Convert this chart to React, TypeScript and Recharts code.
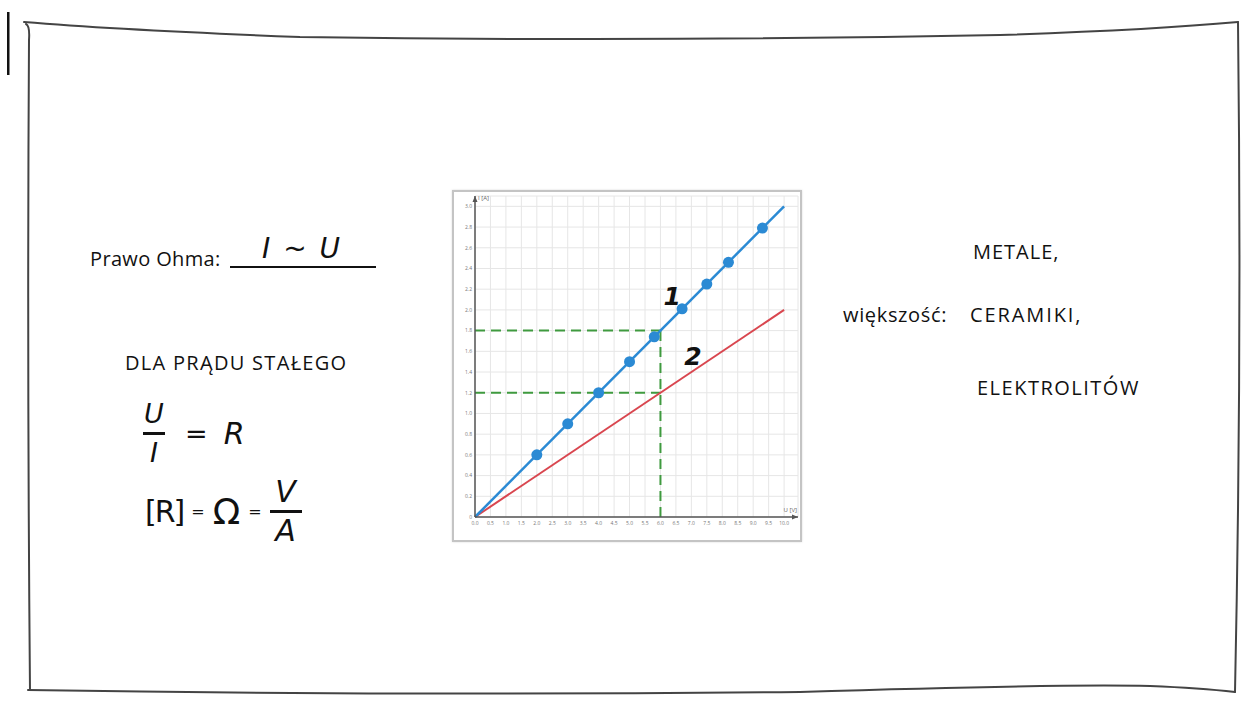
import {
  CartesianGrid,
  ComposedChart,
  Line,
  ReferenceDot,
  ReferenceLine,
  Scatter,
  XAxis,
  YAxis,
} from "recharts";

// axis ticks
const uTicks = [0, 0.5, 1, 1.5, 2, 2.5, 3, 3.5, 4, 4.5, 5, 5.5, 6, 6.5, 7, 7.5, 8, 8.5, 9, 9.5, 10];
const iTicks = [0, 0.2, 0.4, 0.6, 0.8, 1, 1.2, 1.4, 1.6, 1.8, 2, 2.2, 2.4, 2.6, 2.8, 3];

// conductor 1 (steeper) and conductor 2
const line1 = [
  { U: 0, I: 0 },
  { U: 10, I: 3.0 },
];
const line2 = [
  { U: 0, I: 0 },
  { U: 10, I: 2.0 },
];
const measured1 = [
  { U: 2.0, I: 0.6 },
  { U: 3.0, I: 0.9 },
  { U: 4.0, I: 1.2 },
  { U: 5.0, I: 1.5 },
  { U: 5.8, I: 1.74 },
  { U: 6.7, I: 2.01 },
  { U: 7.5, I: 2.25 },
  { U: 8.2, I: 2.46 },
  { U: 9.3, I: 2.79 },
];

// reading at the same voltage
const readU = 6.0;
const readI1 = 1.8;
const readI2 = 1.2;

const U_MAX = 10.45;
const I_MAX = 3.1;

const BLUE = "#2b8ad4";
const RED = "#d9464f";
const GREEN = "#3f9a3f";
const AXIS = "#555";

const textFont = "'Open Sans', 'Noto Sans', sans-serif";
const handFont = "'DejaVu Sans', sans-serif";

const fmtU = (v: number) => v.toFixed(1);
const fmtI = (v: number) => (v === 0 ? "0" : v.toFixed(1));

function ArrowRight(props: any) {
  const { cx, cy } = props;
  return (
    <g>
      <path d={`M${cx} ${cy} l-6 -2.5 l0 5 z`} fill={AXIS} />
      <text x={cx - 1} y={cy - 5} fontSize={6} fill="#666" textAnchor="end" fontFamily={textFont}>
        U [V]
      </text>
    </g>
  );
}

function ArrowUp(props: any) {
  const { cx, cy } = props;
  return (
    <g>
      <path d={`M${cx} ${cy} l-2.5 6 l5 0 z`} fill={AXIS} />
      <text x={cx + 3} y={cy + 4} fontSize={6} fill="#666" fontFamily={textFont}>
        I [A]
      </text>
    </g>
  );
}

const tag = (txt: string) => (props: any) => (
  <text
    x={props.cx}
    y={props.cy}
    fontSize={25}
    fontStyle="italic"
    fontWeight={700}
    fontFamily={handFont}
    fill="#111"
    textAnchor="middle"
    dominantBaseline="central"
  >
    {txt}
  </text>
);

const dotShape = (props: any) => <circle cx={props.cx} cy={props.cy} r={5.5} fill={BLUE} />;

function Chart() {
  return (
    <div
      style={{
        position: "absolute",
        left: 452,
        top: 190,
        width: 350,
        height: 352,
        boxSizing: "border-box",
        border: "2px solid #c4c4c4",
        background: "#fff",
        boxShadow: "0 0 2px rgba(0,0,0,0.15)",
      }}
    >
      <ComposedChart width={346} height={348} margin={{ top: 4, right: 2, left: 5, bottom: 9 }}>
        <CartesianGrid stroke="#e6e6e6" strokeWidth={1} />
        <XAxis
          type="number"
          dataKey="U"
          domain={[0, U_MAX]}
          ticks={uTicks}
          interval={0}
          tickFormatter={fmtU}
          tickLine={false}
          tickSize={2}
          tickMargin={2}
          height={14}
          stroke={AXIS}
          strokeWidth={1.5}
          tick={{ fontSize: 5, fill: "#777", fontFamily: textFont }}
        />
        <YAxis
          type="number"
          dataKey="I"
          domain={[0, I_MAX]}
          ticks={iTicks}
          interval={0}
          tickFormatter={fmtI}
          tickLine={false}
          tickSize={2}
          tickMargin={1}
          width={16}
          stroke={AXIS}
          strokeWidth={1.5}
          tick={{ fontSize: 5, fill: "#777", fontFamily: textFont }}
        />
        <ReferenceLine
          segment={[
            { x: 0, y: readI1 },
            { x: readU, y: readI1 },
          ]}
          stroke={GREEN}
          strokeWidth={2}
          strokeDasharray="10 6"
        />
        <ReferenceLine
          segment={[
            { x: 0, y: readI2 },
            { x: readU, y: readI2 },
          ]}
          stroke={GREEN}
          strokeWidth={2}
          strokeDasharray="10 6"
        />
        <ReferenceLine
          segment={[
            { x: readU, y: 0 },
            { x: readU, y: readI1 },
          ]}
          stroke={GREEN}
          strokeWidth={2}
          strokeDasharray="10 6"
        />
        <Line
          data={line2}
          dataKey="I"
          type="linear"
          stroke={RED}
          strokeWidth={2}
          dot={false}
          isAnimationActive={false}
        />
        <Line
          data={line1}
          dataKey="I"
          type="linear"
          stroke={BLUE}
          strokeWidth={2.5}
          dot={false}
          isAnimationActive={false}
        />
        <Scatter data={measured1} dataKey="I" fill={BLUE} shape={dotShape} isAnimationActive={false} />
        <ReferenceDot x={U_MAX} y={0} r={0} shape={ArrowRight} />
        <ReferenceDot x={0} y={I_MAX} r={0} shape={ArrowUp} />
        <ReferenceDot x={6.38} y={2.13} r={0} shape={tag("1")} />
        <ReferenceDot x={7.05} y={1.55} r={0} shape={tag("2")} />
      </ComposedChart>
    </div>
  );
}

const abs = (left: number, top: number, extra: React.CSSProperties = {}): React.CSSProperties => ({
  position: "absolute",
  left,
  top,
  whiteSpace: "nowrap",
  ...extra,
});

const label: React.CSSProperties = {
  fontFamily: textFont,
  fontSize: 20,
  fontWeight: 500,
  color: "#111",
  lineHeight: "22px",
};
const hand: React.CSSProperties = { fontFamily: handFont, fontStyle: "italic", color: "#111" };

function Frame() {
  return (
    <svg width={1254} height={701} style={{ position: "absolute", left: 0, top: 0 }}>
      <g fill="none" stroke="#444" strokeWidth={2} strokeLinecap="round">
        <path d="M24 22 Q120 30 300 37 Q650 42 1000 35 Q1150 30 1238 22" />
        <path d="M26 24 Q30 26 29 40 Q27 360 30 690" />
        <path d="M1238 22 Q1242 360 1235 692" />
        <path d="M28 690 Q400 696 800 692 Q1050 684 1150 686 Q1200 688 1235 692" />
      </g>
      <rect x={7} y={12} width={2.5} height={63} fill="#111" />
    </svg>
  );
}

export default function App() {
  return (
    <div style={{ position: "absolute", left: 0, top: 0, width: 1254, height: 701, background: "#fff", overflow: "hidden" }}>
      <Frame />

      <div style={abs(90, 248, { ...label, letterSpacing: 0.35 })}>Prawo Ohma:</div>
      <div style={abs(230, 266, { width: 146, height: 2, background: "#111" })} />
      <div style={abs(262, 232, { ...hand, fontSize: 28, letterSpacing: 2 })}>I ~ U</div>

      <div style={abs(125, 352, { ...label, letterSpacing: 1.3 })}>DLA PRĄDU STAŁEGO</div>

      <div style={abs(143, 398, { ...hand, fontSize: 27, display: "flex", alignItems: "center", gap: 20 })}>
        <div style={{ display: "flex", flexDirection: "column", alignItems: "center", lineHeight: "32px" }}>
          <span>U</span>
          <span style={{ width: 22, height: 2.5, background: "#111", margin: "2px 0" }} />
          <span>I</span>
        </div>
        <span>=</span>
        <span style={{ fontSize: 30, marginLeft: -4 }}>R</span>
      </div>

      <div style={abs(145, 476, { ...hand, fontSize: 30, display: "flex", alignItems: "center", gap: 8 })}>
        <span style={{ fontStyle: "normal", fontSize: 30, letterSpacing: -2 }}>[R]</span>
        <span style={{ fontSize: 16 }}>=</span>
        <span style={{ fontStyle: "normal", fontSize: 36 }}>Ω</span>
        <span style={{ fontSize: 16 }}>=</span>
        <div style={{ display: "flex", flexDirection: "column", alignItems: "center", lineHeight: "32px" }}>
          <span>V</span>
          <span style={{ width: 32, height: 2.5, background: "#111", margin: "2px 0" }} />
          <span>A</span>
        </div>
      </div>

      <Chart />

      <div style={abs(973, 241, { ...label, letterSpacing: 1.0 })}>METALE,</div>
      <div style={abs(843, 304, { ...label, letterSpacing: 0.65 })}>większość:</div>
      <div style={abs(970, 304, { ...label, letterSpacing: 1.9 })}>CERAMIKI,</div>
      <div style={abs(977, 377, { ...label, letterSpacing: 1.5 })}>ELEKTROLITÓW</div>
    </div>
  );
}
